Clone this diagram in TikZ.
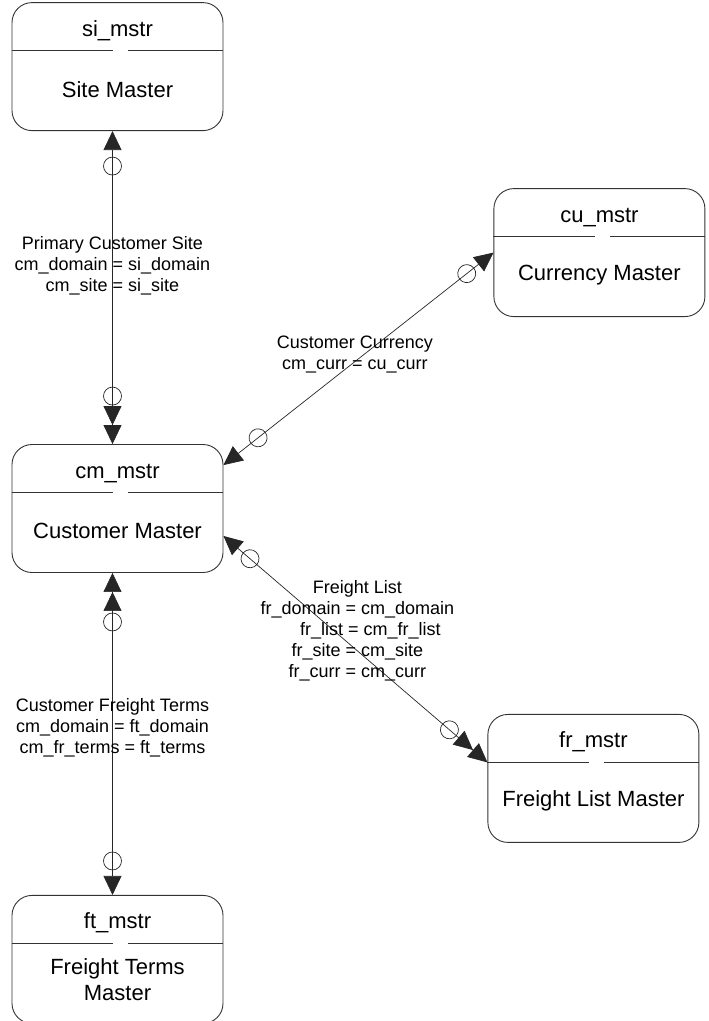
\documentclass[tikz,border=0pt]{standalone}
\usepackage{fontspec}
\setmainfont{Liberation Sans}
\usetikzlibrary{arrows.meta,positioning,decorations.markings}

\begin{document}
\begin{tikzpicture}[x=1pt,y=-1pt,
        entity/.style={draw=black!80, line width=0.9pt, rounded corners=20pt, minimum width=211pt, minimum height=128pt, inner sep=0pt},
        ename/.style={anchor=base, inner sep=0pt, font=\fontsize{22}{26}\selectfont},
        ebody/.style={align=center, inner sep=0pt, font=\fontsize{22}{26}\selectfont},
        rel/.style={draw=black!85, line width=0.7pt},
        lbl/.style={align=center, inner sep=0pt, font=\fontsize{18}{21}\selectfont},
        ring/.style={postaction={decorate, decoration={markings, mark=at position #1 with {\draw[rel,-] (0,0) circle (9pt);}}}},
        >={Triangle[width=18pt,length=19pt]}
    ]
        \useasboundingbox (0,0) rectangle (709,1021);

        \node[entity] at (117.5,508.5) (cm) {};
        \node[entity, above=313pt of cm] (si) {};
        \node[entity, below=322pt of cm] (ft) {};
        \node[entity, above right=127pt and 270pt of cm] (cu) {};
        \node[entity, below right=141pt and 264pt of cm] (fr) {};

        \foreach \e in {si,cu,cm,fr,ft}
            \draw[draw=black!80, line width=0.9pt] ([yshift=-48pt]\e.north west) -- ([xshift=-4.5pt,yshift=-48pt]\e.north)
                ([xshift=10.5pt,yshift=-48pt]\e.north) -- ([yshift=-48pt]\e.north east);

        \node[ename] (si-name) at ([yshift=-34pt]si.north) {si\_mstr};
        \node[ebody] (si-body) at ([yshift=-87pt]si.north) {Site Master};
        \node[ename] (cu-name) at ([yshift=-34pt]cu.north) {cu\_mstr};
        \node[ebody] (cu-body) at ([yshift=-87pt]cu.north) {Currency Master};
        \node[ename] (cm-name) at ([yshift=-34pt]cm.north) {cm\_mstr};
        \node[ebody] (cm-body) at ([yshift=-87pt]cm.north) {Customer Master};
        \node[ename] (fr-name) at ([yshift=-34pt]fr.north) {fr\_mstr};
        \node[ebody] (fr-body) at ([yshift=-87pt]fr.north) {Freight List Master};
        \node[ename] (ft-name) at ([yshift=-34pt]ft.north) {ft\_mstr};
        \node[ebody] (ft-body) at ([yshift=-85pt]ft.north) {Freight Terms\\Master};

        \draw[rel, <->>, ring=35pt, ring=-48pt] ([xshift=-5pt]si.south) -- node[lbl, pos=0.43]{Primary Customer Site\\cm\_domain = si\_domain\\cm\_site = si\_site} ([xshift=-5pt]cm.north);
        \draw[rel, <->, ring=34pt, ring=-44pt] (cu.west) -- node[lbl, pos=0.48, xshift=-9pt]{Customer Currency\\cm\_curr = cu\_curr} ([yshift=-21pt]cm.north east);
        \draw[rel, <->>, ring=35pt, ring=-50pt] ([yshift=37pt]cm.south east) -- node[lbl, pos=0.42, xshift=23pt]{Freight List\\fr\_domain = cm\_domain\\\hspace{26pt}fr\_list = cm\_fr\_list\\fr\_site = cm\_site\\fr\_curr = cm\_curr} ([yshift=16pt]fr.west);
        \draw[rel, <<->, ring=49pt, ring=-34pt] ([xshift=-5pt]cm.south) -- node[lbl, pos=0.48]{Customer Freight Terms\\cm\_domain = ft\_domain\\cm\_fr\_terms = ft\_terms} ([xshift=-5pt]ft.north);
    \end{tikzpicture}
\end{document}
